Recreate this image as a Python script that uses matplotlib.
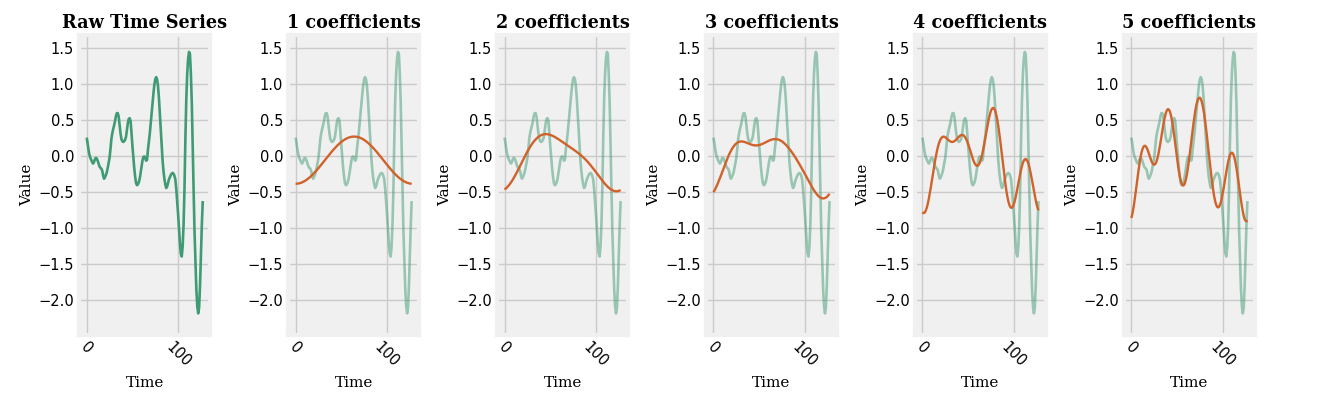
import numpy as np
import matplotlib
matplotlib.use("Agg")
import matplotlib.pyplot as plt

# raw series, one reading per time step
raw_values = [
    0.26, 0.18, 0.09, 0.02, -0.02, -0.05, -0.08, -0.10,
    -0.08, -0.04, -0.02, -0.03, -0.06, -0.10, -0.14, -0.16,
    -0.17, -0.20, -0.27, -0.31, -0.29, -0.26, -0.22, -0.16,
    -0.09, -0.02, 0.10, 0.24, 0.32, 0.38, 0.43, 0.49,
    0.56, 0.60, 0.60, 0.55, 0.44, 0.32, 0.24, 0.21,
    0.20, 0.21, 0.23, 0.27, 0.36, 0.46, 0.52, 0.53,
    0.49, 0.33, 0.15, 0.00, -0.16, -0.28, -0.37, -0.40,
    -0.39, -0.36, -0.31, -0.23, -0.14, -0.06, -0.01, 0.00,
    -0.02, -0.06, -0.05, 0.09, 0.20, 0.31, 0.45, 0.58,
    0.73, 0.87, 0.99, 1.07, 1.10, 1.07, 0.98, 0.82,
    0.60, 0.40, 0.17, -0.05, -0.20, -0.31, -0.39, -0.44,
    -0.42, -0.37, -0.32, -0.29, -0.26, -0.24, -0.23, -0.24,
    -0.27, -0.32, -0.45, -0.62, -0.80, -1.00, -1.20, -1.35,
    -1.39, -1.25, -0.95, -0.45, 0.25, 0.80, 1.15, 1.36,
    1.45, 1.42, 1.15, 0.75, 0.12, -0.47, -1.05, -1.45,
    -1.85, -2.08, -2.18, -2.10, -1.80, -1.35, -0.95, -0.62,
]
n_coefs = [1, 2, 3, 4, 5]
titles = ["Raw Time Series"] + [f"{k} coefficients" for k in n_coefs]

RAW_COLOR = "#3f9b74"
APPROX_COLOR = "#d0622a"

y = np.array(raw_values)
t = np.arange(len(y))
spec = np.fft.rfft(y)


def fourier_approx(k):
    # keep the mean, harmonics 1..k-1 in full and only the real part of harmonic k
    s = np.zeros_like(spec)
    s[:k] = spec[:k]
    s[k] = spec[k].real
    return np.fft.irfft(s, n=len(y))


plt.style.use("fivethirtyeight")
plt.rcParams["figure.facecolor"] = "white"
plt.rcParams["savefig.facecolor"] = "white"

fig, axes = plt.subplots(1, 6, figsize=(13.26, 4.0), dpi=100)
fig.subplots_adjust(left=0.0596, right=0.9465, top=0.9125, bottom=0.1625, wspace=0.59)

for i, ax in enumerate(axes):
    if i == 0:
        ax.plot(t, y, color=RAW_COLOR, lw=1.9)
    else:
        ax.plot(t, y, color=RAW_COLOR, lw=1.9, alpha=0.5)
        ax.plot(t, fourier_approx(n_coefs[i - 1]), color=APPROX_COLOR, lw=1.7)
    ax.set_title(titles[i], family="DejaVu Serif", fontweight="bold", fontsize=12.7, pad=5)
    ax.set_xlabel("Time", family="DejaVu Serif", fontsize=11)
    ax.set_ylabel("Value", family="DejaVu Serif", fontsize=11, labelpad=3)
    ax.set_xlim(-8.4, 135.4)
    ax.set_ylim(-2.48, 1.685)
    ax.set_xticks([0, 100])
    ax.set_yticks([1.5, 1.0, 0.5, 0.0, -0.5, -1.0, -1.5, -2.0])
    ax.tick_params(axis="both", labelsize=10.5, length=0)
    for lab in ax.get_xticklabels():
        lab.set_rotation(-45)
        lab.set_ha("center")

fig.savefig("out.png", dpi=100)
